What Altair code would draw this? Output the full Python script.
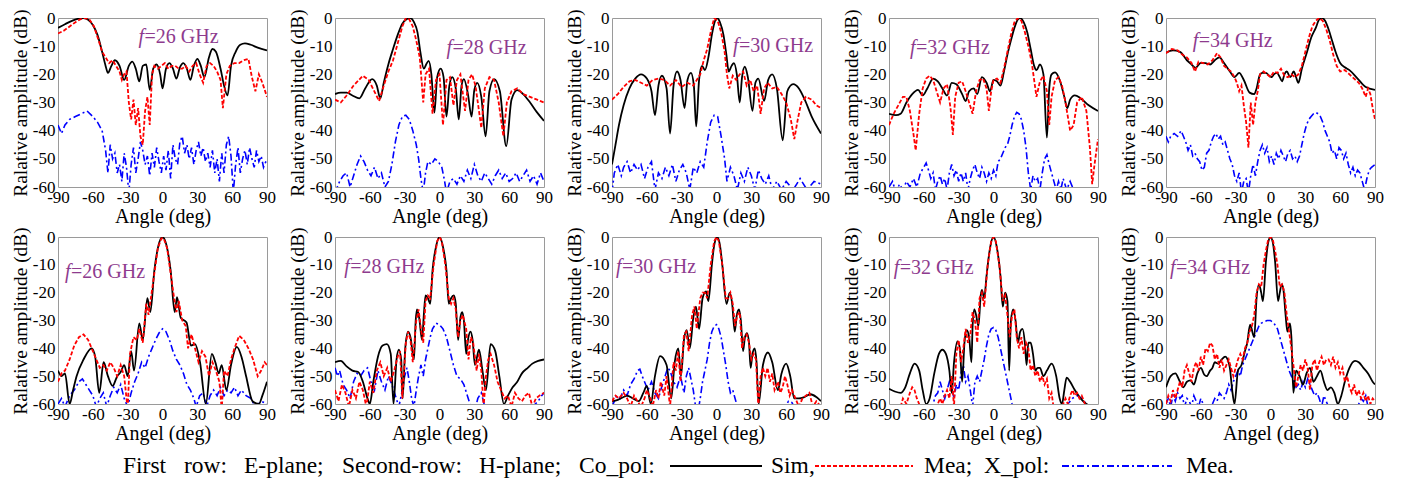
import altair as alt
import pandas as pd

FONT = "Liberation Serif"
PURPLE = "#8e3b8e"

XTICKS = [-90, -60, -30, 0, 30, 60, 90]
YTICKS = [0, -10, -20, -30, -40, -50, -60]
FREQ_LABELS = ["=26 GHz", "=28 GHz", "=30 GHz", "=32 GHz", "=34 GHz"]
ROW1_XTITLE = ["Angle (deg)", "Angle (deg)", "Angle (deg)", "Angle (deg)", "Angle (deg)"]
ROW2_XTITLE = ["Angel (deg)", "Angle (deg)", "Angel (deg)", "Angel (deg)", "Angel (deg)"]
YTITLE = "Ralative amplitude (dB)"
ROW1_LABEL_ANG = [-20.6, 6, 14.2, -72, -67]
ROW1_LABEL_DB = [-6.7, -10.6, -10, -10.6, -8.2]
ROW2_LABEL_ANG = [-84, -82, -86.5, -86, -86.5]
ROW2_LABEL_DB = [-12.4, -10.7, -10.7, -11, -11]

# ---------------- E-plane, 26 GHz
E26_sim_ang = [-90,-84,-78,-72,-68,-64,-60,-56,-52,-49,-47,-44,-41,-37,-33,-29,-26,-23,-20,-17,-14,-11,-8,-5,-2,0,3,6,9,12,15,18,21,24,27,30,33,36,40,43,46,50,53,56,59,63,67,71,76,82,90]
E26_sim_db = [-3.5,-2.2,-1,-0.2,0,-0.6,-2.5,-6,-12,-17,-19.5,-17,-15,-17,-22,-17,-15.5,-18,-22.5,-17,-16.5,-25.5,-18,-16.5,-20,-25,-18,-16,-18,-21.5,-17.5,-16,-18,-22,-17,-14.5,-17,-21,-14,-11,-12,-18,-24,-27.5,-17,-12,-9.5,-9,-9.5,-10.5,-11.5]
E26_mea_ang = [-90,-85,-80,-75,-71,-67,-63,-59,-55,-52,-49,-46,-43,-40,-37,-35,-33,-31,-29,-27,-25,-23,-21,-19,-17,-15,-13,-11,-9,-7,-4,-1,2,5,8,11,14,17,20,23,26,29,32,35,38,41,44,47,50,52,55,58,62,66,70,74,77,80,83,86,90]
E26_mea_db = [-5.5,-4.5,-3,-1.5,-0.5,0,-0.5,-3,-8,-12,-14,-16,-15,-17,-19,-22,-20,-19,-30,-36,-29,-38,-32,-42,-45,-33,-28,-38,-20,-17,-18,-17,-16,-18,-17,-17,-18,-18,-17,-19,-17,-16,-20,-23,-17,-16,-17,-19,-22,-32,-20,-17,-16,-16,-15,-14.5,-21,-26,-20,-23,-28]
E26_x_ang = [-90,-87,-84,-80,-75,-70,-65,-60,-56,-52,-49,-47,-45,-43,-41,-39,-37,-35,-33,-31,-29,-27,-25,-23,-21,-19,-17,-15,-13,-11,-9,-7,-5,-3,-1,1,3,5,7,9,11,13,15,17,19,21,23,25,27,29,31,33,35,37,39,41,43,45,47,49,51,53,55,57,59,61,63,65,67,69,71,73,75,77,79,81,83,85,87,90]
E26_x_db = [-38,-41,-38,-36,-35,-34,-33,-35,-37,-40,-47,-55,-45,-50,-48,-55,-52,-58,-48,-53,-62,-52,-46,-55,-50,-44,-47,-52,-49,-56,-48,-53,-46,-51,-55,-49,-54,-47,-57,-45,-50,-52,-44,-42,-48,-45,-50,-46,-52,-47,-44,-49,-46,-51,-48,-53,-47,-55,-50,-58,-48,-55,-45,-42,-49,-62,-52,-46,-55,-50,-47,-52,-46,-50,-53,-47,-51,-49,-53,-50]

# ---------------- E-plane, 28 GHz
E28_sim_ang = [-90,-85,-80,-75,-69,-64,-58,-54,-51,-48,-44,-40,-36,-32,-28,-25,-22,-19,-16.5,-13.5,-11.5,-9.3,-7,-4.4,-2,1,3.5,6,8.5,11,14,16.6,19,21,24.5,27.6,30,32.5,36,39.7,43,47,52,57.5,62,67,72,78,84,90]
E28_sim_db = [-27,-26.5,-26.5,-27.5,-28.5,-25,-21.7,-24,-28.5,-23,-16.4,-11,-6,-2,-0.3,0,-1.5,-5,-12,-18,-16.5,-15.2,-20,-33.6,-21,-18,-21,-35,-24,-21,-25,-36,-24,-21.7,-27,-35,-25.5,-23,-28,-42,-26,-21.7,-26,-45.5,-29,-25.6,-27,-30,-33.5,-36.5]
E28_mea_ang = [-90,-85,-80,-74,-66,-61,-55,-52,-48,-44,-40,-36,-32,-29,-26,-23,-20,-17,-14,-12,-9,-6,-3,0,3,6,9,12,15,18,22,25,28,31,36,39,43,47,51,55,58,62,67,72,78,84,90]
E28_mea_db = [-29,-30,-27.5,-24,-20.5,-22,-27,-29.5,-24,-19,-15,-9,-3,0,-0.5,-3,-8,-14,-30,-20,-18,-34,-22,-20,-38,-22,-21,-31,-22,-20,-33,-22,-20,-24,-39,-25,-21,-22,-30,-42,-30,-26,-25,-27,-28,-29,-30]
E28_x_ang = [-90,-86,-83,-80,-77,-74,-71,-68,-65,-62,-59,-56,-53,-50,-47,-44,-41,-38,-35,-32,-29,-26,-23,-20,-18,-16,-14,-12,-10,-7,-4,-1,2,4,6,9,12,15,18,21,24,27,30,33,36,39,42,45,48,51,54,57,60,63,66,69,72,75,78,81,84,87,90]
E28_x_db = [-62,-58,-56,-55,-60,-56,-52,-49,-51,-54,-56,-53,-57,-55,-60,-58,-52,-44,-38,-35,-34.5,-36,-40,-45,-50,-57,-62,-55,-51,-52,-50,-51,-53,-57,-62,-58,-57,-59,-56,-58,-54,-57,-52,-56,-58,-55,-57,-59,-56,-54,-57,-55,-58,-57,-55,-58,-56,-54,-58,-56,-59,-55,-58]

# ---------------- E-plane, 30 GHz
E30_sim_ang = [-90,-87,-84,-80,-75,-70,-65,-60,-56,-53,-50,-47,-43,-40,-37,-34,-31,-27.5,-25,-22,-19.5,-17.5,-15,-12.5,-10,-7,-4,-2,0.5,3,6,8.5,10.5,13,15,17.5,20,22,24.4,27,31,33.5,36,41,44.5,48,52,57,61,66,71,76,82,90]
E30_sim_db = [-52,-45,-38,-31,-25,-21.5,-20,-21.5,-26,-34.5,-24,-20.5,-25,-41,-24,-19,-22,-32,-22,-19.5,-24,-38.5,-22,-17,-18.5,-14,-6,-2,0,-1.5,-6,-13,-19,-17,-16,-20,-30,-21,-17.3,-21,-33,-23,-21.5,-29.4,-22,-20,-25,-43.4,-26,-23.5,-25,-29,-35,-41]
E30_mea_ang = [-90,-85,-80,-75,-70,-65,-60,-55,-50,-45,-40,-35,-30,-25,-20,-17,-14,-11,-8,-5,-2,1,4,7,9,11,14,17,20,23,26,29,32,35,38,41,44,48,52,56,60,64,67,70,73,77,82,86,90]
E30_mea_db = [-29,-27,-24.5,-22.5,-22,-23,-24,-22,-21.5,-22,-24,-22,-24.5,-23,-24,-22,-20,-15,-11,-5,0,-1,-5,-12,-20,-25,-20.5,-22,-20,-19,-24,-22,-26,-24,-34,-25,-23,-25,-24.5,-27,-30,-36,-43,-36,-30,-28,-29,-31,-32]
E30_x_ang = [-90,-88,-85,-82,-80,-77,-74,-71,-68,-65,-62,-59,-56,-53,-50,-47,-44,-41,-38,-35,-32,-29,-26,-23,-20,-17,-14,-11,-8,-5,-2,1,4,7,9,12,15,18,21,24,27,30,33,36,39,42,45,48,52,56,60,66,72,78,84,90]
E30_x_db = [-62,-55,-52,-56,-53,-51,-55,-52,-54,-52,-57,-53,-51,-61,-55,-57,-53,-56,-52,-58,-54,-52,-55,-61,-53,-55,-51,-53,-44,-37,-34.5,-35,-42,-50,-58,-53,-56,-61,-55,-58,-53,-56,-61,-54,-57,-59,-56,-61,-58,-61,-58,-61,-57,-61,-58,-59]

# ---------------- E-plane, 32 GHz
E32_sim_ang = [-90,-84,-80,-75,-70,-65,-61,-57,-52,-48,-44,-40,-36,-32,-27,-24,-21,-17,-14,-10,-6,-3,0,3,6,9,12,15,18,21,23,26,29,32,35,37,40,43,46,48,50,53,57,61,63.5,66,70,75,82,90]
E32_sim_db = [-34,-34.5,-34,-30,-27,-25.5,-27.5,-25,-21.5,-22.5,-25,-27.5,-23,-23.5,-27,-29.5,-26,-25,-27,-21,-23,-26,-22,-22.5,-24,-19,-13,-8,-3.5,-0.5,0,-1.5,-5,-11,-17,-18.5,-16.5,-20,-42.5,-25,-20,-19.3,-22,-28,-32,-29,-27.5,-28.5,-31,-33]
E32_mea_ang = [-90,-86,-82,-78,-75,-72,-69,-67,-64,-61,-58,-55,-52,-49,-46,-43,-40,-37,-35,-33,-30,-27,-24,-21,-18,-15,-12,-9,-6,-4,-2,0,3,6,9,12,15,18,21,24,27,30,33,35,37,40,43,46,48,50,53,56,59,62,66,69,72,76,80,83,85,87,90]
E32_mea_db = [-38,-34,-31,-28,-28,-33,-41,-47,-34,-25,-21.5,-20.5,-22,-26,-30,-25,-23.5,-32,-41.5,-28,-23,-22.5,-26,-30,-34,-26,-22,-21.5,-25,-33,-26,-22,-21.5,-23,-18,-12,-6,-1.5,0,-1,-5,-10,-16,-22,-28,-22.5,-20.5,-26,-38,-28,-22,-21,-24,-30,-40,-38,-30,-28,-33,-46,-59,-52,-43]
E32_x_ang = [-90,-87,-84,-81,-78,-75,-72,-69,-66,-63,-60,-58,-56,-54,-52,-50,-48,-46,-44,-42,-40,-38,-36,-34,-32,-30,-28,-26,-24,-22,-20,-18,-16,-14,-12,-10,-8,-6,-4,-2,0,2,4,6,8,10,12,14,16,18,20,22,24,26,28,30,32,34,36,38,40,42,44,46,48,50,52,54,56,58,60,63,66,68,72,90]
E32_x_db = [-60,-58,-62,-59,-61,-58,-60,-57,-60,-55,-53,-51.5,-54,-57,-55,-61,-58,-56,-59,-57,-61,-55,-52,-56,-54,-58,-55,-58,-55,-61,-57,-54,-52,-55,-57,-53,-55,-58,-55,-57,-54,-56,-51,-50,-48,-46,-45,-42,-38,-35,-33.5,-34,-36,-40,-46,-55,-61,-56,-58,-57,-61,-55,-50,-48.5,-52,-55,-58,-61,-58,-61,-57,-61,-58,-60,-64,-66]

# ---------------- E-plane, 34 GHz
E34_sim_ang = [-90,-84,-78,-72,-68,-64.5,-60,-56,-52,-48,-44,-40,-35,-31,-27,-23,-18,-14,-12,-9,-7,-4,-1,1,3,5.5,8,10,12,14,17,20,22,24,27,31.5,35,39,42,44.5,47,50,53,56,60,64,68,75,82,90]
E34_sim_db = [-12.3,-11.5,-12,-15,-16.5,-17.7,-15.9,-16,-16.5,-15,-14,-16,-19,-21,-19.5,-22,-26.5,-27,-25,-20,-19.5,-19.5,-20.5,-21,-20,-19.5,-21,-22.5,-20,-19,-21,-19,-21,-23,-18,-12,-7,-3.5,-0.5,0,-1,-4,-8,-12,-16,-17.5,-18.5,-21.5,-24.5,-25.5]
E34_mea_ang = [-90,-85,-80,-76,-72,-68,-65,-62,-58,-54,-50,-46,-43,-40,-37,-34,-31,-29,-27,-25,-23,-21,-19,-17,-15,-13,-11,-9,-6,-3,0,3,6,9,12,15,18,21,24,27,30,33,36,39,42,45,48,51,54,57,60,64,68,72,76,79,82,84,86,88,90]
E34_mea_db = [-12.5,-11,-11.5,-13,-14,-16,-19,-15.5,-16,-16.5,-15,-12.5,-14,-17,-18,-19,-21,-23,-26,-24,-31,-37,-46,-30,-38,-30,-26,-20,-19,-20,-21,-19,-19.5,-18,-20.5,-21,-20,-21,-20,-17,-12,-7,-3,-1,0,-1,-4,-8,-13,-17,-19,-18.5,-20,-21.5,-23,-25,-28,-25,-27,-32,-36]
E34_x_ang = [-90,-88,-86,-83,-80,-77,-75,-73,-71,-69,-67,-65,-63,-61,-59,-57,-55,-53,-51,-49,-47,-45,-43,-41,-39,-37,-35,-33,-31,-29,-27,-25,-23,-21,-19,-17,-15,-13,-11,-9,-7,-5,-3,-1,1,3,5,7,9,11,13,15,17,19,21,23,25,27,29,31,33,35,37,39,41,43,45,47,49,51,53,55,57,59,61,63,65,67,69,71,73,75,77,79,81,83,85,87,90]
E34_x_db = [-42,-44,-42,-41,-42,-40,-42,-44,-47,-45,-49,-48,-50,-51,-54,-53,-48,-47,-44,-42,-41,-43,-42,-45,-44,-47,-50,-52,-56,-58,-55,-62,-58,-57,-62,-56,-52,-56,-51,-47,-45,-48,-46,-51,-49,-52,-48,-50,-47,-49,-51,-48,-47,-50,-49,-51,-49,-45,-41,-38,-36,-35,-34,-33.5,-34,-35,-37,-40,-42,-44,-48,-47,-50,-46,-47,-50,-48,-52,-55,-53,-56,-54,-55,-58,-61,-57,-54,-53,-52]

# ---------------- H-plane, 26 GHz
H26_sim_ang = [-90,-87,-84,-80,-77,-74,-68,-61,-58,-54.5,-50.7,-47,-43,-39,-36,-33,-30,-27,-24.5,-20,-17,-13,-10.5,-7,-4,0,4,7,10.5,12.5,15.7,20.7,24.5,28,32.3,37.3,42.5,45.5,48.4,51,55,59,64,68,72,77.5,83,86,90]
H26_sim_db = [-48,-50,-49,-60,-55,-50,-44,-40,-43,-56,-45,-50,-53.5,-50,-48.5,-46,-50,-41,-48,-31,-37,-22,-27,-12,-4,0,-4,-12,-27,-21.6,-29,-30.7,-39,-38.5,-45,-60,-42,-45,-49,-46,-55,-46,-39.5,-43,-50,-59,-60,-57,-52]
H26_mea_ang = [-90,-87,-84,-80,-76,-72,-68,-64,-60,-57,-54,-51,-48,-45,-42,-39,-36,-33,-30,-28,-25,-22,-20,-17,-14,-12,-10,-7,-4,-1,1,4,7,10,12,14,17,20,22,25,28,31,34,37,40,43,46,49,51,53,56,59,62,66,70,74,78,82,85,88,90]
H26_mea_db = [-52,-49,-48,-44,-39,-36,-35,-37,-41,-44,-47,-46,-48,-45,-47,-50,-46,-50,-62,-42,-36,-37,-33,-38,-24,-28,-22,-13,-4,-0.5,-0.5,-4,-13,-22,-27,-23,-30,-32,-40,-35,-40,-45,-41,-43,-50,-45,-48,-52,-62,-48,-50,-44,-40,-35.5,-37,-40,-44,-50,-48,-45,-46]
H26_x_ang = [-90,-87,-84,-80,-76,-72,-69,-66,-63,-60,-57,-54,-51,-48,-45,-42,-39,-36,-33,-30,-27,-24,-21,-18,-15,-12,-9,-6,-3,0,3,6,9,12,15,18,21,24,27,29,32,35,38,41,44,47,50,53,56,59,62,65,68,72,76,80,85,90]
H26_x_db = [-60,-58,-61,-57,-55,-52,-51,-53,-55,-57,-61,-58,-56,-61,-57,-54,-56,-53,-58,-61,-56,-52,-49,-45,-47,-43,-40,-37,-34.5,-33,-34,-37,-41,-44,-46,-49,-53,-55,-58,-61,-57,-56,-61,-57,-55,-57,-54,-57,-55,-56,-54,-57,-55,-57,-58,-61,-59,-60]

# ---------------- H-plane, 28 GHz
H28_sim_ang = [-90,-85,-80,-75,-70,-66,-62,-60,-57,-53,-49,-45.3,-42,-39.6,-37,-35,-33,-31.8,-29.5,-27,-25,-22,-20.5,-19.4,-17.5,-15,-13.5,-12,-10,-8,-6,-3,0,3,6,8,10,12.3,14,16,18,19.5,21,23,24.5,26.7,28.5,30.5,34,37,40,44,48,51.5,55.5,59,63,67,71,76,80,85,90]
H28_sim_db = [-45,-44.5,-46.5,-48,-48.5,-52,-58,-60,-52,-43,-39,-38.5,-42,-60,-44,-40.5,-44,-58,-40,-34,-36,-44,-30,-26,-29,-37,-28,-21,-22,-24,-12,-3.5,0,-3.5,-12,-24,-22,-21,-24,-37,-29,-27,-30,-42,-37,-34,-37,-46,-40.5,-48,-55,-38.5,-41,-50,-60,-57,-54,-52,-49,-47,-45.5,-44.5,-44]
H28_mea_ang = [-90,-87,-84,-81,-78,-75,-72,-69,-66,-63,-60,-57,-54,-51,-48,-45,-42,-39,-36,-34,-32,-29,-27,-25,-23,-20,-18,-16,-14,-12,-10,-8,-5,-2,0,2,5,8,10,12,14,16,18,20,23,25,27,29,32,34,36,38,40,42,44,47,50,53,56,59,62,65,68,71,74,77,80,83,86,90]
H28_mea_db = [-55,-59,-53,-56,-61,-55,-58,-52,-55,-61,-52,-56,-48,-45,-50,-47,-52,-48,-43,-41,-58,-38,-34,-37,-45,-30,-26,-33,-38,-23,-21,-22,-10,-1.5,0,-1.5,-10,-22,-24,-22,-26,-36,-30,-28,-33,-44,-36,-38,-48,-42,-48,-61,-50,-44,-42,-46,-52,-55,-58,-57,-61,-56,-58,-59,-57,-56,-61,-58,-57,-56]
H28_x_ang = [-90,-88,-86,-83,-80,-77,-74,-71,-68,-65,-62,-59,-56,-53,-50,-47,-44,-41,-38,-35,-32,-30,-28,-26,-24,-22,-20,-18,-16,-14,-12,-10,-8,-6,-3,0,3,6,9,12,15,18,21,24,27,30,33,36,39,42,60,80,85,88,90]
H28_x_db = [-47,-50,-48,-53,-55,-58,-52,-49,-50,-48,-47,-52,-55,-48,-52,-55,-50,-53,-57,-61,-55,-50,-47,-52,-58,-61,-55,-50,-46,-50,-44,-40,-36,-33,-31,-31.5,-33,-36,-41,-46,-50,-51,-53,-57,-61,-63,-58,-56,-61,-63,-63,-61,-59,-57,-56]

# ---------------- H-plane, 30 GHz
H30_sim_ang = [-90,-85,-80,-77,-72,-67,-63,-60,-56.6,-53,-48.6,-43,-39,-36,-32.9,-30.6,-28,-25.7,-23,-20,-17.7,-15,-12,-9,-7,-4,-2,0.6,3,5,8.6,11.4,13.5,15.7,17.5,19.4,21,22.9,24.5,26.3,28,29.4,31,32.9,34.5,36.3,40,44.3,48,52.9,56,60,63.5,67,71,75.7,81,86,90]
H30_sim_db = [-59,-58.5,-57.5,-57,-58,-59,-56,-53.5,-60,-50,-42.8,-46,-58,-45,-40,-50,-37,-33.5,-40,-29,-25,-33,-22,-19.5,-23,-10,-3,0,-3,-10,-24,-20,-24,-34,-28,-26,-30,-41,-36,-34.5,-38,-47,-42,-40,-45,-60,-46,-41.5,-45,-55,-49,-45.5,-50,-58,-58,-57.5,-56.5,-57.5,-59]
H30_mea_ang = [-90,-87,-84,-80,-77,-74,-71,-68,-65,-62,-60,-57,-55,-52,-50,-48,-45,-43,-40,-37,-35,-33,-31,-28,-26,-24,-21,-19,-17,-14,-12,-10,-8,-5,-2,0,2,5,8,10,12,14,16,18,20,22,24,26,28,30,32,34,36,38,40,42,44,46,48,50,53,55,57,59,61,63,65,68,71,74,77,80,83,86,90]
H30_mea_db = [-59,-57,-58,-56,-58,-61,-57,-59,-61,-58,-55,-58,-61,-55,-58,-52,-57,-50,-61,-45,-48,-41,-52,-35,-34,-41,-28,-25,-33,-22,-20,-20,-22,-10,-1.5,0,-1.5,-10,-22,-22,-20,-24,-32,-28,-27,-40,-36,-35,-38,-44,-42,-44,-61,-50,-47,-50,-47,-52,-49,-55,-52,-56,-54,-50,-53,-57,-55,-58,-61,-58,-57,-56,-61,-59,-61]
H30_x_ang = [-90,-86,-83,-80,-77,-74,-71,-68,-66,-64,-62,-59,-56,-53,-50,-48,-45,-42,-40,-37,-34,-31,-28,-26,-24,-22,-20,-18,-16,-14,-12,-10,-8,-6,-4,-2,0,2,4,6,8,10,12,14,16,18,20,40,58,62,65,68,72,90]
H30_x_db = [-61,-57,-58,-55,-57,-53,-51,-48,-47.5,-50,-52,-55,-52,-56,-58,-55,-51,-47,-48,-52,-54,-50,-56,-50,-47,-51,-55,-61,-63,-58,-52,-48,-44,-38,-34,-32,-31.5,-33,-36,-41,-46,-52,-56,-55,-58,-61,-63,-63,-62,-59,-59.5,-62,-63,-63]

# ---------------- H-plane, 32 GHz
H32_sim_ang = [-90,-85,-80,-76,-72,-68,-64,-61,-58,-55,-51,-47,-44,-41,-38,-36,-34,-31,-29,-27,-25,-23,-21,-19,-18,-16.5,-15,-13,-11,-10,-8,-6,-3,0,3,6,8,10,12,13.5,15,17,19,21,23,25,27,28.5,30,32,34,36,38,40,43,46,50,54,57,59,61,63,66,70,75,80,85,90]
H32_sim_db = [-54.5,-55.5,-56,-54,-49,-45.5,-48,-55,-60,-58,-49,-42,-40.5,-42,-48,-56,-45,-37.5,-40,-52,-38,-33.5,-36,-45,-32,-26,-28,-32,-21,-19,-22,-14,-4,0,-4,-14,-25,-20,-23,-48,-30,-26,-30,-38,-34,-33,-38,-46,-38,-38,-42,-48,-47,-47,-50,-48,-45.5,-50,-58,-60,-55,-50.5,-52,-55,-58,-60,-61,-62]
H32_mea_ang = [-90,-80,-78,-75,-72,-70,-68,-66,-64,-62,-50,-48,-46,-44,-42,-40,-38,-36,-34,-32,-30,-28,-26,-24,-22,-20,-18,-16,-14,-12,-10,-8,-5,-2,0,2,5,8,10,12,14,16,18,20,22,24,26,28,30,32,34,36,38,40,42,44,46,48,50,52,58,60,62,64,66,68,70,72,74,76,78,80,90]
H32_mea_db = [-62,-61,-58,-60,-56,-54,-55,-58,-60,-62,-62,-60,-58,-60,-57,-55,-58,-50,-61,-42,-37,-45,-40,-33,-38,-35,-27,-30,-38,-22,-20,-25,-10,-1.5,0,-1.5,-10,-23,-21,-28,-36,-28,-26,-36,-40,-36,-42,-38,-40,-48,-46,-50,-48,-52,-50,-53,-51,-58,-56,-62,-62,-60,-58,-60,-57,-55,-57,-56,-58,-57,-59,-62,-64]
H32_x_ang = [-90,-55,-52,-50,-48,-46,-44,-42,-40,-38,-36,-34,-32,-30,-28,-26,-24,-22,-20,-18,-16,-14,-12,-10,-8,-6,-4,-2,0,2,4,6,8,10,12,14,16,18,60,64,68,72,76,80,83,90]
H32_x_db = [-65,-64,-60,-57,-56,-52,-55,-58,-55,-52,-54,-58,-53,-55,-49,-46,-52,-50,-55,-61,-52,-50,-52,-48,-44,-39,-35,-33,-32.5,-33.5,-36,-40,-44,-48,-52,-56,-60,-63,-63,-60,-58,-57,-58,-60,-61,-64]

# ---------------- H-plane, 34 GHz
H34_sim_ang = [-90,-86,-82,-78,-75,-72,-69,-66,-63,-60,-57,-55,-52,-50,-48,-45,-42,-39,-37,-35,-33,-31,-28,-25,-22,-20,-17.6,-14,-12,-9.9,-8,-6.5,-4,-2,0,2,4,6.5,8,9.6,11,13,14.5,16.8,18,19.7,22,25,28,31,34,37,40,43,46,49,52,55,58,61,64,68,72.8,76,80,84,88,90]
H34_sim_db = [-54,-50,-49,-52,-54,-52,-51.5,-53,-49,-47,-49.5,-50,-48,-47,-45,-45.5,-44,-43,-44,-47,-55,-60,-48,-46,-41,-38,-31.5,-36,-22,-17,-20,-23,-9,-2,0,-2,-9,-23,-20,-17,-18.5,-28,-34,-31,-36,-56,-48,-50,-53,-49,-47,-52,-50,-48,-52,-55,-54,-56,-60,-57,-52,-47,-44.5,-45,-47,-49,-52,-53]
H34_mea_ang = [-90,-88,-86,-84,-82,-80,-78,-76,-74,-72,-70,-68,-66,-64,-62,-60,-58,-56,-54,-52,-50,-48,-46,-44,-42,-40,-38,-36,-34,-32,-30,-28,-26,-24,-22,-20,-18,-16,-14,-12,-10,-8,-6,-4,-2,0,2,4,6,8,10,12,14,16,18,20,22,24,26,28,30,32,34,36,38,40,42,44,46,48,50,52,54,56,58,60,62,64,66,68,70,72,74,76,78,80,82,84,86,88,90]
H34_mea_db = [-60,-57,-59,-55,-58,-55,-52,-54,-48,-46,-49,-52,-47,-45,-48,-43,-46,-40,-41,-38,-39,-44,-42,-47,-44,-48,-46,-44,-47,-50,-47,-44,-42,-44,-40,-38,-34,-32,-28,-20,-17,-18,-10,-5,-1,0,-1,-5,-10,-18,-17,-20,-28,-34,-40,-47,-54,-50,-46,-48,-44,-47,-55,-46,-44,-48,-45,-43,-46,-44,-44,-46,-43,-47,-45,-49,-47,-52,-50,-54,-56,-53,-57,-55,-58,-56,-59,-57,-60,-58,-59]
H34_x_ang = [-90,-88,-86,-84,-82,-80,-78,-76,-74,-72,-70,-68,-66,-64,-62,-60,-58,-56,-52,-50,-48,-46,-44,-42,-40,-38,-36,-34,-32,-30,-28,-26,-24,-22,-20,-18,-16,-14,-12,-10,-8,-6,-3,0,3,6,8,10,12,14,16,18,20,22,24,26,28,30,32,34,36,38,40,42,44,46,48,50,52,74,76,78,80,82,84,86]
H34_x_db = [-60,-58,-61,-57,-59,-56,-58,-57,-61,-58,-59,-61,-57,-59,-61,-58,-60,-62,-62,-60,-58,-59,-56,-57,-58,-56,-53,-55,-52,-50,-48,-50,-46,-44,-42,-40,-38,-36,-34,-32,-31,-30.5,-30,-30,-31,-33,-36,-39,-42,-45,-48,-50,-52,-54,-53,-55,-52,-54,-51,-53,-55,-57,-56,-58,-61,-57,-59,-61,-62,-62,-60,-58,-59,-57,-61,-62]

ROW1 = [
    (E26_sim_ang, E26_sim_db, E26_mea_ang, E26_mea_db, E26_x_ang, E26_x_db),
    (E28_sim_ang, E28_sim_db, E28_mea_ang, E28_mea_db, E28_x_ang, E28_x_db),
    (E30_sim_ang, E30_sim_db, E30_mea_ang, E30_mea_db, E30_x_ang, E30_x_db),
    (E32_sim_ang, E32_sim_db, E32_mea_ang, E32_mea_db, E32_x_ang, E32_x_db),
    (E34_sim_ang, E34_sim_db, E34_mea_ang, E34_mea_db, E34_x_ang, E34_x_db),
]
ROW2 = [
    (H26_sim_ang, H26_sim_db, H26_mea_ang, H26_mea_db, H26_x_ang, H26_x_db),
    (H28_sim_ang, H28_sim_db, H28_mea_ang, H28_mea_db, H28_x_ang, H28_x_db),
    (H30_sim_ang, H30_sim_db, H30_mea_ang, H30_mea_db, H30_x_ang, H30_x_db),
    (H32_sim_ang, H32_sim_db, H32_mea_ang, H32_mea_db, H32_x_ang, H32_x_db),
    (H34_sim_ang, H34_sim_db, H34_mea_ang, H34_mea_db, H34_x_ang, H34_x_db),
]

SIM_STYLE = dict(color="#000000", strokeWidth=1.8, interpolate="monotone")
MEA_STYLE = dict(color="#ff0000", strokeWidth=1.8, strokeDash=[4, 2])
XP_STYLE = dict(color="#0000ff", strokeWidth=1.6, strokeDash=[7, 3, 2, 3])

# ---------------- bottom legend sentence (justified words, drawn below the first H-plane panel)
LEG_TEXTS = ["First", "row:", "E-plane;", "Second-row:", "H-plane;", "Co_pol:", "Sim,", "Mea;", "X_pol:", "Mea."]
LEG_TEXT_X = [65, 126, 186, 284, 421, 521, 713, 866, 926, 1128]
LEG_LINES = [(612, 704, SIM_STYLE), (757, 855, MEA_STYLE), (1004, 1114, XP_STYLE)]
LEG_Y = 229
LEG_FONT_SIZE = 23.5


def legend_layers():
    one = pd.DataFrame({"k": [0]})
    layers = []
    for t, px in zip(LEG_TEXTS, LEG_TEXT_X):
        layers.append(
            alt.Chart(pd.DataFrame({"t": [t]})).mark_text(
                font=FONT, fontSize=LEG_FONT_SIZE, color="black", align="left",
                baseline="middle").encode(
                x=alt.value(px), y=alt.value(LEG_Y), text="t:N"))
    for x1, x2, st in LEG_LINES:
        kw = dict(color=st["color"], strokeWidth=2)
        if "strokeDash" in st:
            kw["strokeDash"] = st["strokeDash"]
        layers.append(alt.Chart(one).mark_rule(**kw).encode(
            x=alt.value(x1), x2=alt.value(x2), y=alt.value(LEG_Y)))
    return layers


def panel(series, lab_ang, lab_db, lab_text, xtitle, w, h, extra=None):
    sa, sd, ma, md, xa, xd = series
    xs = alt.Scale(domain=[-90, 90], nice=False, zero=False)
    ys = alt.Scale(domain=[-60, 0], nice=False, zero=False)
    xax = alt.Axis(values=XTICKS, title=xtitle, labelExpr="'' + datum.value",
                   labelFlush=False, labelOverlap=False, labelPadding=2, titlePadding=1,
                   titleFontSize=20)
    yax = alt.Axis(values=YTICKS, title=YTITLE, labelExpr="'' + datum.value",
                   labelOverlap=False, labelPadding=3, titlePadding=2, titleFontSize=19.4)
    enc = dict(x=alt.X("angle:Q", scale=xs, axis=xax), y=alt.Y("db:Q", scale=ys, axis=yax))

    def line(a, d, style):
        df = pd.DataFrame({"angle": a, "db": d})
        return alt.Chart(df).mark_line(clip=True, **style).encode(**enc)

    lab = pd.DataFrame({"angle": [lab_ang], "db": [lab_db], "f": ["f"], "t": [lab_text]})
    tf = alt.Chart(lab).mark_text(font=FONT, fontSize=20, fontStyle="italic", color=PURPLE,
                                  align="left", baseline="middle").encode(text="f:N", **enc)
    tt = alt.Chart(lab).mark_text(font=FONT, fontSize=20, color=PURPLE, align="left",
                                  baseline="middle", dx=6).encode(text="t:N", **enc)
    layers = [line(xa, xd, XP_STYLE), line(sa, sd, SIM_STYLE), line(ma, md, MEA_STYLE), tf, tt]
    if extra:
        layers += extra
    return alt.layer(*layers).properties(width=w, height=h)


PW = 209
panels = []
for i in range(5):
    panels.append(panel(ROW1[i], ROW1_LABEL_ANG[i], ROW1_LABEL_DB[i], FREQ_LABELS[i],
                        ROW1_XTITLE[i], PW, 169))
for i in range(5):
    panels.append(panel(ROW2[i], ROW2_LABEL_ANG[i], ROW2_LABEL_DB[i], FREQ_LABELS[i],
                        ROW2_XTITLE[i], PW, 167, legend_layers() if i == 0 else None))

chart = alt.concat(*panels, columns=5, spacing={"row": 50, "column": 68}, bounds="flush").properties(
    padding={"left": 1, "top": 0, "right": 2, "bottom": 2}
).configure_view(stroke="#9a9a9a", strokeWidth=1).configure_axis(
    labelFont=FONT, titleFont=FONT, labelFontSize=17,
    labelColor="black", titleColor="black", titleFontWeight="normal",
    domain=False, ticks=False, grid=False, labelOverlap=False
).configure_text(font=FONT)

chart.save("out.html", embed_options={"renderer": "svg", "actions": False})
